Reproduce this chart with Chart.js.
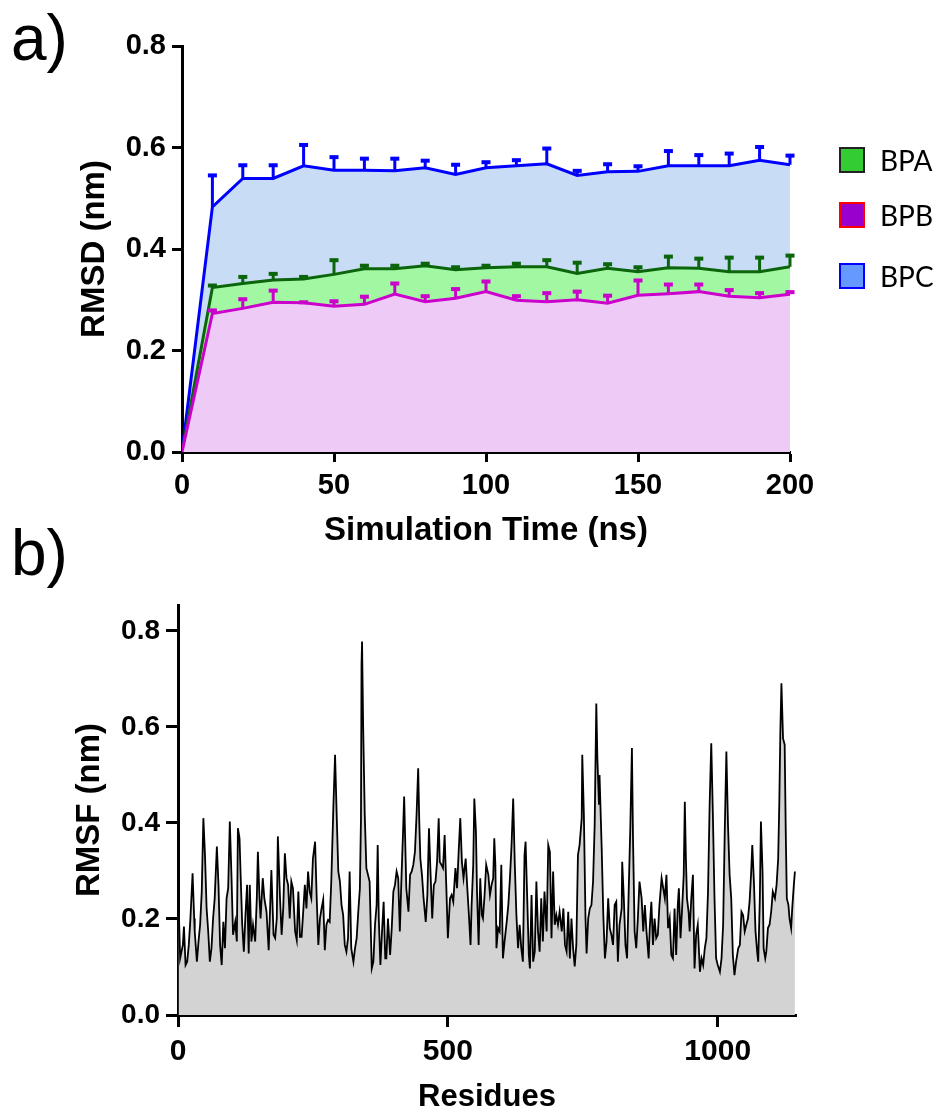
<!DOCTYPE html>
<html><head><meta charset="utf-8">
<script src="https://cdn.jsdelivr.net/npm/chart.js@4.4.1/dist/chart.umd.min.js"></script>
<style>
html,body{margin:0;padding:0;background:#fff;}
#wrap{position:relative;width:937px;height:1113px;overflow:hidden;background:#fff;}
canvas{position:absolute;left:0;}
.panel{position:absolute;left:11px;font:64px/1 "Liberation Sans",Arial,sans-serif;color:#000;}
.leg{position:absolute;left:839px;width:26px;height:26px;box-sizing:border-box;border:2px solid #000;}
.legt{position:absolute;left:880px;font:28px/1 Lato,"Open Sans",sans-serif;color:#000;white-space:nowrap;}
</style></head><body>
<div id="wrap">
<canvas id="ca" width="937" height="560" style="top:0"></canvas>
<canvas id="cb" width="937" height="553" style="top:560px"></canvas>
<div class="panel" style="top:6px">a)</div>
<div class="panel" style="top:521px">b)</div>
<div class="leg" style="top:147px;background:#33cc33;border-color:#222;"></div>
<div class="legt" style="top:146px">BPA</div>
<div class="leg" style="top:202px;background:#9900cc;border-color:#ff0000;"></div>
<div class="legt" style="top:201px">BPB</div>
<div class="leg" style="top:263px;background:#6699ff;border-color:#0000ff;"></div>
<div class="legt" style="top:262px">BPC</div>
</div>
<script>
// ---------- Panel a data ----------
const timeNs = [0,10,20,30,40,50,60,70,80,90,100,110,120,130,140,150,160,170,180,190,200];
const bpaRmsd = [0,0.324,0.332,0.339,0.341,0.350,0.361,0.361,0.367,0.359,0.363,0.365,0.365,0.352,0.362,0.355,0.363,0.362,0.355,0.355,0.365];
const bpaErr  = [0,0.005,0.014,0.013,0.005,0.029,0.007,0.007,0.005,0.006,0.005,0.007,0.014,0.022,0.009,0.010,0.023,0.020,0.029,0.029,0.023];
const bpbRmsd = [0,0.273,0.283,0.295,0.294,0.287,0.291,0.311,0.296,0.303,0.316,0.299,0.296,0.300,0.293,0.309,0.312,0.316,0.307,0.304,0.311];
const bpbErr  = [0,0.007,0.019,0.024,0.002,0.011,0.016,0.022,0.012,0.019,0.021,0.009,0.018,0.017,0.016,0.030,0.019,0.015,0.013,0.010,0.005];
const bpcRmsd = [0,0.483,0.539,0.539,0.564,0.555,0.555,0.554,0.560,0.547,0.560,0.564,0.568,0.545,0.552,0.553,0.564,0.564,0.564,0.575,0.566];
const bpcErr  = [0,0.063,0.027,0.027,0.042,0.027,0.024,0.025,0.015,0.020,0.012,0.012,0.031,0.010,0.016,0.011,0.030,0.022,0.025,0.027,0.019];
const rmsdTicks = [0,0.2,0.4,0.6,0.8];
const timeTicks = [0,50,100,150,200];

// ---------- Panel b data ----------
const residues = [
1,4,9,11,14,17,20,23,27,30,31,35,38,41,44,47,50,53,56,59,62,65,68,72,75,78,81,84,87,90,
93,96,99,102,106,109,111,114,116,119,122,125,128,131,133,136,139,143,146,148,151,153,157,160,164,168,170,173,177,180,
183,185,189,192,195,198,201,204,207,210,213,217,220,223,226,229,232,235,238,241,244,247,250,254,257,260,263,266,269,272,
275,278,281,284,288,291,294,297,300,303,306,309,312,315,318,321,325,328,331,334,337,339,340,341,343,346,349,352,355,
359,362,365,368,370,372,375,378,381,384,386,389,393,396,399,402,405,408,411,414,417,419,422,423,427,430,433,436,439,442,
445,447,449,452,455,459,462,465,468,471,474,477,480,483,485,488,491,494,497,500,504,507,510,514,517,520,523,526,529,533,
536,539,542,544,547,549,552,554,557,560,563,565,568,571,575,578,581,584,586,588,590,593,596,599,602,605,609,612,615,618,
621,624,627,630,633,636,639,642,644,647,650,652,655,658,661,664,667,670,673,676,679,683,686,689,692,695,698,701,704,707,
711,714,717,720,723,726,729,732,735,738,741,744,748,749,752,755,757,760,763,766,769,772,775,777,780,781,785,788,791,794,
797,800,803,806,809,812,815,818,822,823,826,829,832,835,838,841,843,846,849,852,855,859,862,865,868,872,874,877,880,883,
886,889,892,896,899,902,905,908,911,914,917,920,923,926,928,931,934,937,939,941,943,946,948,951,954,957,960,963,967,970,
973,976,979,982,985,988,991,994,997,1000,1004,1007,1010,1013,1016,1019,1022,1025,1028,1031,1034,1038,1041,1044,1047,1050,1053,1056,1059,
1062,1064,1067,1070,1073,1075,1078,1080,1083,1085,1088,1090,1093,1096,1099,1102,1106,1109,1112,1114,1116,1118,1121,1124,1126,1128,1131,1133,1136,1138,1141,1143
];
const rmsf = [
0.236,0.118,0.146,0.184,0.104,0.111,0.146,0.201,0.295,0.201,0.174,0.111,0.153,0.188,0.257,0.410,0.333,0.222,0.174,0.111,0.139,0.201,0.243,0.351,0.271,0.146,0.104,0.194,0.139,0.243,
0.264,0.403,0.292,0.167,0.194,0.153,0.389,0.368,0.292,0.188,0.132,0.208,0.271,0.128,0.271,0.153,0.188,0.153,0.243,0.340,0.243,0.201,0.285,0.243,0.215,0.135,0.201,0.302,0.167,0.160,
0.201,0.372,0.243,0.167,0.222,0.337,0.285,0.271,0.201,0.278,0.264,0.174,0.156,0.257,0.163,0.163,0.215,0.271,0.222,0.299,0.257,0.243,0.326,0.361,0.243,0.146,0.201,0.222,0.240,0.135,
0.188,0.198,0.194,0.278,0.438,0.542,0.417,0.299,0.278,0.229,0.208,0.146,0.132,0.160,0.299,0.139,0.111,0.139,0.160,0.215,0.264,0.410,0.729,0.778,0.604,0.417,0.306,0.292,0.278,
0.097,0.111,0.188,0.229,0.354,0.201,0.104,0.174,0.236,0.118,0.118,0.201,0.125,0.181,0.257,0.271,0.299,0.285,0.174,0.285,0.382,0.455,0.313,0.264,0.215,0.292,0.299,0.313,0.340,0.417,
0.514,0.403,0.326,0.292,0.243,0.194,0.250,0.389,0.292,0.201,0.271,0.278,0.319,0.410,0.319,0.313,0.306,0.375,0.271,0.160,0.243,0.250,0.236,0.306,0.264,0.340,0.410,0.319,0.285,0.326,
0.264,0.208,0.146,0.229,0.313,0.451,0.382,0.257,0.146,0.285,0.208,0.201,0.250,0.313,0.292,0.250,0.271,0.285,0.368,0.313,0.139,0.181,0.174,0.313,0.118,0.153,0.194,0.229,0.285,0.354,
0.451,0.313,0.208,0.139,0.188,0.139,0.111,0.333,0.361,0.243,0.125,0.097,0.250,0.111,0.132,0.278,0.174,0.132,0.243,0.153,0.257,0.174,0.354,0.340,0.160,0.299,0.188,0.208,0.188,0.215,
0.174,0.222,0.146,0.132,0.215,0.118,0.201,0.139,0.101,0.146,0.333,0.354,0.410,0.542,0.417,0.201,0.128,0.201,0.222,0.229,0.278,0.396,0.649,0.535,0.438,0.500,0.347,0.208,0.118,0.153,
0.243,0.181,0.167,0.146,0.229,0.236,0.111,0.188,0.222,0.319,0.243,0.146,0.118,0.257,0.389,0.556,0.368,0.174,0.139,0.201,0.278,0.243,0.174,0.229,0.174,0.118,0.181,0.236,0.146,0.201,
0.160,0.167,0.229,0.285,0.264,0.243,0.292,0.181,0.201,0.125,0.118,0.222,0.125,0.229,0.264,0.160,0.222,0.292,0.444,0.326,0.243,0.215,0.174,0.243,0.292,0.097,0.167,0.188,0.090,0.118,
0.104,0.139,0.160,0.257,0.438,0.566,0.417,0.243,0.118,0.104,0.090,0.118,0.188,0.382,0.549,0.396,0.292,0.243,0.125,0.083,0.111,0.139,0.146,0.215,0.208,0.174,0.188,0.201,0.236,
0.299,0.354,0.278,0.174,0.132,0.111,0.243,0.403,0.299,0.139,0.118,0.132,0.181,0.188,0.215,0.257,0.243,0.271,0.326,0.438,0.590,0.691,0.576,0.563,0.382,0.243,0.229,0.201,0.181,0.222,0.271,0.299
];
const rmsfTicks = [0,0.2,0.4,0.6,0.8];
const residueTicks = [0,500,1000];

// ---------- helpers ----------
const FONT = '"Liberation Sans", Arial, sans-serif';
const errByLabel = {BPA: bpaErr, BPB: bpbErr, BPC: bpcErr};

const errorBars = {
  id: 'errorBars',
  afterDatasetDraw(chart, args) {
    const ds = chart.data.datasets[args.index];
    const errs = errByLabel[ds.label];
    if (!errs) return;
    const xs = chart.scales.x, ys = chart.scales.y, ctx = chart.ctx;
    ctx.save();
    ctx.strokeStyle = ds.borderColor;
    ctx.fillStyle = ds.borderColor;
    ctx.lineWidth = 3;
    ds.data.forEach((p, i) => {
      const e = errs[i];
      if (!e) return;
      const x = xs.getPixelForValue(p.x);
      const y0 = ys.getPixelForValue(p.y);
      const y1 = ys.getPixelForValue(p.y + e);
      ctx.beginPath(); ctx.moveTo(x, y0); ctx.lineTo(x, y1); ctx.stroke();
      ctx.fillRect(x - 4.5, y1 - 1.5, 9, 4);
    });
    ctx.restore();
  }
};

function axisCommon(tickLen) {
  return {
    grid: {display: true, drawOnChartArea: false, drawTicks: true, tickLength: tickLen, tickWidth: 3, tickColor: '#000', color: '#000'},
    border: {display: true, color: '#000', width: 3}
  };
}

function series(label, xs, ys, line, fillc, width) {
  return {
    label, data: xs.map((x, i) => ({x, y: ys[i]})),
    borderColor: line, backgroundColor: fillc, fill: 'origin',
    borderWidth: width, pointRadius: 0, pointHoverRadius: 0, tension: 0
  };
}

// ---------- Panel a ----------
new Chart(document.getElementById('ca'), {
  type: 'line',
  data: {datasets: [
    series('BPB', timeNs, bpbRmsd, '#cc00cc', '#eecbf6', 3),
    series('BPA', timeNs, bpaRmsd, '#0b650b', '#a2f8a2', 3),
    series('BPC', timeNs, bpcRmsd, '#0000ff', '#c8dcf5', 3)
  ]},
  options: {
    responsive: false, animation: false, events: [],
    layout: {padding: {top: 46, right: 147, left: 0, bottom: 0}},
    plugins: {legend: {display: false}, tooltip: {enabled: false}},
    scales: {
      x: Object.assign(axisCommon(10), {
        type: 'linear', min: 0, max: 200,
        afterBuildTicks: s => { s.ticks = timeTicks.map(v => ({value: v})); },
        ticks: {color: '#000', font: {family: FONT, size: 29, weight: 'bold'}, padding: 7, maxRotation: 0, callback: v => String(v)},
        title: {display: true, text: 'Simulation Time (ns)', color: '#000', font: {family: FONT, size: 33, weight: 'bold'}, padding: {top: 0, bottom: 9}},
        afterFit: s => { s.height = 108; }
      }),
      y: Object.assign(axisCommon(10), {
        min: 0, max: 0.8,
        afterBuildTicks: s => { s.ticks = rmsdTicks.map(v => ({value: v})); },
        ticks: {color: '#000', font: {family: FONT, size: 29, weight: 'bold'}, padding: 6, callback: v => Number(v).toFixed(1)},
        title: {display: true, text: 'RMSD (nm)', color: '#000', font: {family: FONT, size: 33, weight: 'bold'}, padding: {top: 75, bottom: 0}},
        afterFit: s => { s.width = 182; }
      })
    }
  },
  plugins: [errorBars]
});

// ---------- Panel b ----------
new Chart(document.getElementById('cb'), {
  type: 'line',
  data: {datasets: [
    series('RMSF', residues, rmsf, '#000000', '#d3d3d3', 1.8)
  ]},
  options: {
    responsive: false, animation: false, events: [],
    layout: {padding: {top: 45, right: 141, left: 0, bottom: 0}},
    plugins: {legend: {display: false}, tooltip: {enabled: false}},
    scales: {
      x: Object.assign(axisCommon(12), {
        type: 'linear', min: 0, max: 1145,
        afterBuildTicks: s => { s.ticks = residueTicks.map(v => ({value: v})); },
        ticks: {color: '#000', font: {family: FONT, size: 30, weight: 'bold'}, padding: 7, maxRotation: 0, callback: v => String(v)},
        title: {display: true, text: 'Residues', color: '#000', font: {family: FONT, size: 31, weight: 'bold', lineHeight: 1}, padding: {top: 0, bottom: 0.5}},
        afterFit: s => { s.height = 98; }
      }),
      y: Object.assign(axisCommon(12), {
        min: 0, max: 0.854,
        afterBuildTicks: s => { s.ticks = rmsfTicks.map(v => ({value: v})); },
        ticks: {color: '#000', font: {family: FONT, size: 28, weight: 'bold'}, padding: 6, callback: v => Number(v).toFixed(1)},
        title: {display: true, text: 'RMSF (nm)', color: '#000', font: {family: FONT, size: 33, weight: 'bold'}, padding: {top: 70, bottom: 0}},
        afterFit: s => { s.width = 178; }
      })
    }
  }
});
</script>
</body></html>
